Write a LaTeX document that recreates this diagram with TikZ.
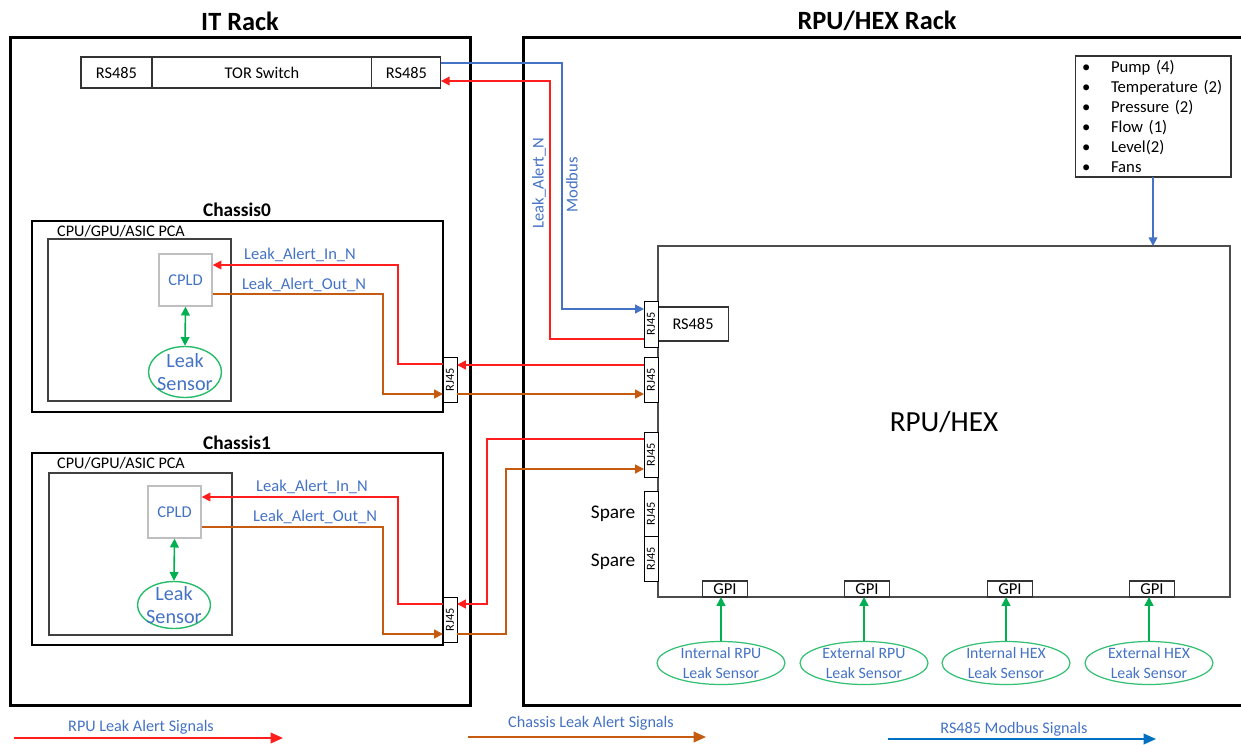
\documentclass[tikz,border=0pt]{standalone}
\usepackage{fontspec}
\setmainfont{Carlito}
\usepackage{graphicx}
\usetikzlibrary{positioning,shapes.geometric,arrows.meta}

\definecolor{sigred}{RGB}{255,30,30}
\definecolor{sigorange}{RGB}{197,90,17}
\definecolor{sigblue}{RGB}{68,114,196}
\definecolor{legblue}{RGB}{0,112,192}
\definecolor{siggreen}{RGB}{0,176,80}
\definecolor{txtblue}{RGB}{68,114,196}

\newcommand{\fsz}[2]{\fontsize{#1}{#2}\selectfont}
\newcommand{\lstbul}{\makebox[0.58cm][l]{\textbullet}}

\begin{document}
\begin{tikzpicture}[x=0.02cm, y=-0.02cm,
    >={Triangle[length=5pt,width=5pt]},
    rack/.style={draw, line width=1.7pt, inner sep=0pt},
    rackttl/.style={font=\fsz{15}{18}\bfseries},
    chassis/.style={draw, line width=1.4pt, inner sep=0pt},
    chasttl/.style={font=\fsz{11}{13}\bfseries},
    pca/.style={draw=black!75, line width=1pt, inner sep=0pt},
    pcattl/.style={anchor=west, font=\fsz{9.2}{11}},
    cpld/.style={draw=black!25, line width=0.8pt, inner sep=0pt, minimum width=1.06cm, minimum height=1.04cm, text=txtblue, font=\fsz{9.4}{11}},
    leak/.style={ellipse, draw=siggreen!85, line width=0.8pt, inner sep=0pt, minimum width=1.46cm},
    leaktxt/.style={text=txtblue, align=center, font=\fsz{11.5}{13}},
    rjport/.style={draw, line width=0.5pt, fill=white, inner sep=0pt, outer sep=0pt, minimum width=0.28cm, minimum height=0.9cm, font=\fsz{7}{8}},
    box/.style={draw=black!80, line width=0.6pt, inner sep=0pt, outer sep=0pt, font=\fsz{9.3}{11}},
    sigtxt/.style={text=txtblue, font=\fsz{9.4}{11}},
    sig/.style={line width=0.9pt, ->},
    redsig/.style={sig, sigred},
    orgsig/.style={sig, sigorange},
    bluesig/.style={sig, sigblue},
    grnsig/.style={sig, siggreen},
    legsig/.style={line width=1.1pt, -{Triangle[length=7pt,width=6pt]}},
    gpisns/.style={ellipse, draw=siggreen!80, line width=0.7pt, inner sep=0pt, minimum width=2.56cm, minimum height=0.86cm},
    snstxt/.style={text=txtblue, align=center, font=\fsz{9}{11.3}},
    lgtxt/.style={text=txtblue, font=\fsz{9.2}{11}}]
    \useasboundingbox (0,0) rectangle (1241,744);

    % Racks
    \node[rackttl] (itttl) at (240,21) {IT Rack};
    \node[rackttl] (rputtl) at (877,21) {RPU/HEX Rack};
    \node[rack, minimum width=9.22cm, minimum height=13.38cm] (itrack) at (240.5,371.5) {};
    \node[rack, minimum width=14.44cm, minimum height=13.38cm] (rpurack) at (884,371.5) {};

    % TOR switch
    \node[box, minimum width=1.42cm, minimum height=0.62cm] (torL) at (116.5,72.5) {RS485};
    \node[box, minimum width=4.4cm, minimum height=0.62cm, right=0pt of torL] (torM) {TOR Switch};
    \node[box, minimum width=1.38cm, minimum height=0.62cm, right=0pt of torM] (torR) {RS485};

    % Chassis0
    \node[chasttl] (ch0ttl) at (237,210) {Chassis0};
    \node[chassis, minimum width=8.22cm, minimum height=3.82cm] (ch0) at (237.5,316.5) {};
    \node[pca, minimum width=3.66cm, minimum height=3.24cm] (pca0) at (139.5,320) {};
    \node[pcattl] (pca0ttl) at (51,231) {CPU/GPU/ASIC PCA};
    \node[cpld] (cpld0) at (185.5,280) {CPLD};
    \node[leak, minimum height=1.02cm, label={[leaktxt]center:{Leak\\Sensor}}] (leak0) at (185,372) {};
    \node[rjport] (rj0) at (450,379.5) {\rotatebox{90}{RJ45}};
    \draw[grnsig, <->] (cpld0.south) -- (leak0.north);
    \coordinate (in0) at (398,265);
    \coordinate (out0) at (383,394);
    \draw[redsig] (rj0.west |- 0,364) -| (in0) -- (cpld0.east |- in0);
    \draw[orgsig] (cpld0.east |- 0,294) -| (out0) -- (rj0.west |- out0);
    \node[sigtxt] (in0txt) at (300,255) {Leak\_Alert\_In\_N};
    \node[sigtxt] (out0txt) at (304,285) {Leak\_Alert\_Out\_N};

    % Chassis1
    \node[chasttl] (ch1ttl) at (237,443) {Chassis1};
    \node[chassis, minimum width=8.22cm, minimum height=3.84cm] (ch1) at (237.5,549) {};
    \node[pca, minimum width=3.66cm, minimum height=3.24cm] (pca1) at (140.5,554) {};
    \node[pcattl] (pca1ttl) at (51,463) {CPU/GPU/ASIC PCA};
    \node[cpld] (cpld1) at (174.5,512) {CPLD};
    \node[leak, minimum height=0.94cm, label={[leaktxt]center:{Leak\\Sensor}}] (leak1) at (174,605) {};
    \node[rjport] (rj1) at (450,619.5) {\rotatebox{90}{RJ45}};
    \draw[grnsig, <->] (cpld1.south) -- (leak1.north);
    \coordinate (in1) at (398,497);
    \coordinate (out1) at (383,634);
    \draw[redsig] (rj1.west |- 0,604) -| (in1) -- (cpld1.east |- in1);
    \draw[orgsig] (cpld1.east |- 0,527) -| (out1) -- (rj1.west |- out1);
    \node[sigtxt] (in1txt) at (312,487) {Leak\_Alert\_In\_N};
    \node[sigtxt] (out1txt) at (315,517) {Leak\_Alert\_Out\_N};

    % RPU/HEX
    \node[box, draw=black!70, line width=0.8pt, minimum width=11.44cm, minimum height=7.02cm, font=\fsz{16.6}{20}] (rpu) at (944,421.5) {RPU/HEX};
    \node[box, minimum width=1.4cm, minimum height=0.68cm, anchor=west] (rs485) at (rpu.west |- 0,324) {RS485};
    \node[rjport, minimum height=0.92cm] (pA) at (651,324) {\rotatebox{90}{RJ45}};
    \node[rjport] (pB) at (651,379.5) {\rotatebox{90}{RJ45}};
    \node[rjport] (pC) at (651,454.5) {\rotatebox{90}{RJ45}};
    \node[rjport] (pD) at (651,513.5) {\rotatebox{90}{RJ45}};
    \node[rjport, below=0pt of pD] (pE) {\rotatebox{90}{RJ45}};
    \node[font=\fsz{11}{13}, left=0.05cm of pD] (spD) {Spare};
    \node[font=\fsz{11}{13}, left=0.05cm of pE, yshift=-2pt] (spE) {Spare};

    % sensor list
    \node[box, minimum width=3.12cm, minimum height=2.42cm, text width=2.84cm, inner xsep=0.14cm, align=left, font=\fsz{9.5}{11.3}] (lst) at (1153,116.5)
        {\lstbul Pump (4)\\ \lstbul Temperature (2)\\ \lstbul Pressure (2)\\ \lstbul Flow (1)\\ \lstbul Level(2)\\ \lstbul Fans};
    \draw[bluesig] (lst.south) -- (lst.south |- rpu.north);

    % GPI + leak sensors
    \node[box, minimum width=0.9cm, minimum height=0.32cm, font=\fsz{9.5}{11}] (g1) at (725,589) {GPI};
    \node[box, minimum width=0.9cm, minimum height=0.32cm, font=\fsz{9.5}{11}] (g2) at (867,589) {GPI};
    \node[box, minimum width=0.9cm, minimum height=0.32cm, font=\fsz{9.5}{11}] (g3) at (1010,589) {GPI};
    \node[box, minimum width=0.9cm, minimum height=0.32cm, font=\fsz{9.5}{11}] (g4) at (1152,589) {GPI};
    \node[gpisns, label={[snstxt]center:{Internal RPU\\Leak Sensor}}] (s1) at (721,663) {};
    \node[gpisns, label={[snstxt]center:{External RPU\\Leak Sensor}}] (s2) at (864,663) {};
    \node[gpisns, label={[snstxt]center:{Internal HEX\\Leak Sensor}}] (s3) at (1006,663) {};
    \node[gpisns, label={[snstxt]center:{External HEX\\Leak Sensor}}] (s4) at (1149,663) {};
    \draw[grnsig] (s1.north) -- (s1.north |- g1.south);
    \draw[grnsig] (s2.north) -- (s2.north |- g2.south);
    \draw[grnsig] (s3.north) -- (s3.north |- g3.south);
    \draw[grnsig] (s4.north) -- (s4.north |- g4.south);

    % Modbus and Leak_Alert_N
    \coordinate (mb) at (562,309);
    \coordinate (la) at (550,81);
    \draw[bluesig, line width=0.7pt] (torR.east |- 0,63) -| (mb) -- (pA.west |- mb);
    \draw[redsig] (pA.west |- 0,339) -| (la) -- (torR.east |- la);
    \node[sigtxt, rotate=90] (latxt) at (539,183) {Leak\_Alert\_N};
    \node[sigtxt, rotate=90] (mbtxt) at (572,185) {Modbus};

    % chassis to RPU/HEX
    \draw[redsig] (pB.west |- 0,365) -- (rj0.east |- 0,365);
    \draw[orgsig] (rj0.east |- 0,394) -- (pB.west |- 0,394);
    \coordinate (r1) at (487,604);
    \coordinate (o1) at (506,469);
    \draw[redsig] (pC.west |- 0,439) -| (r1) -- (rj1.east |- r1);
    \draw[orgsig] (rj1.east |- 0,634) -| (o1) -- (pC.west |- o1);

    % Legend
    \coordinate (lg1a) at (14,738);
    \coordinate (lg1b) at (283,738);
    \draw[legsig, sigred] (lg1a) -- (lg1b);
    \node[lgtxt] (lg1) at (141,727) {RPU Leak Alert Signals};
    \coordinate (lg2a) at (468,737);
    \coordinate (lg2b) at (706,737);
    \draw[legsig, sigorange] (lg2a) -- (lg2b);
    \node[lgtxt] (lg2) at (591,723) {Chassis Leak Alert Signals};
    \coordinate (lg3a) at (888,739);
    \coordinate (lg3b) at (1156,739);
    \draw[legsig, legblue] (lg3a) -- (lg3b);
    \node[lgtxt] (lg3) at (1014,729) {RS485 Modbus Signals};
\end{tikzpicture}
\end{document}
